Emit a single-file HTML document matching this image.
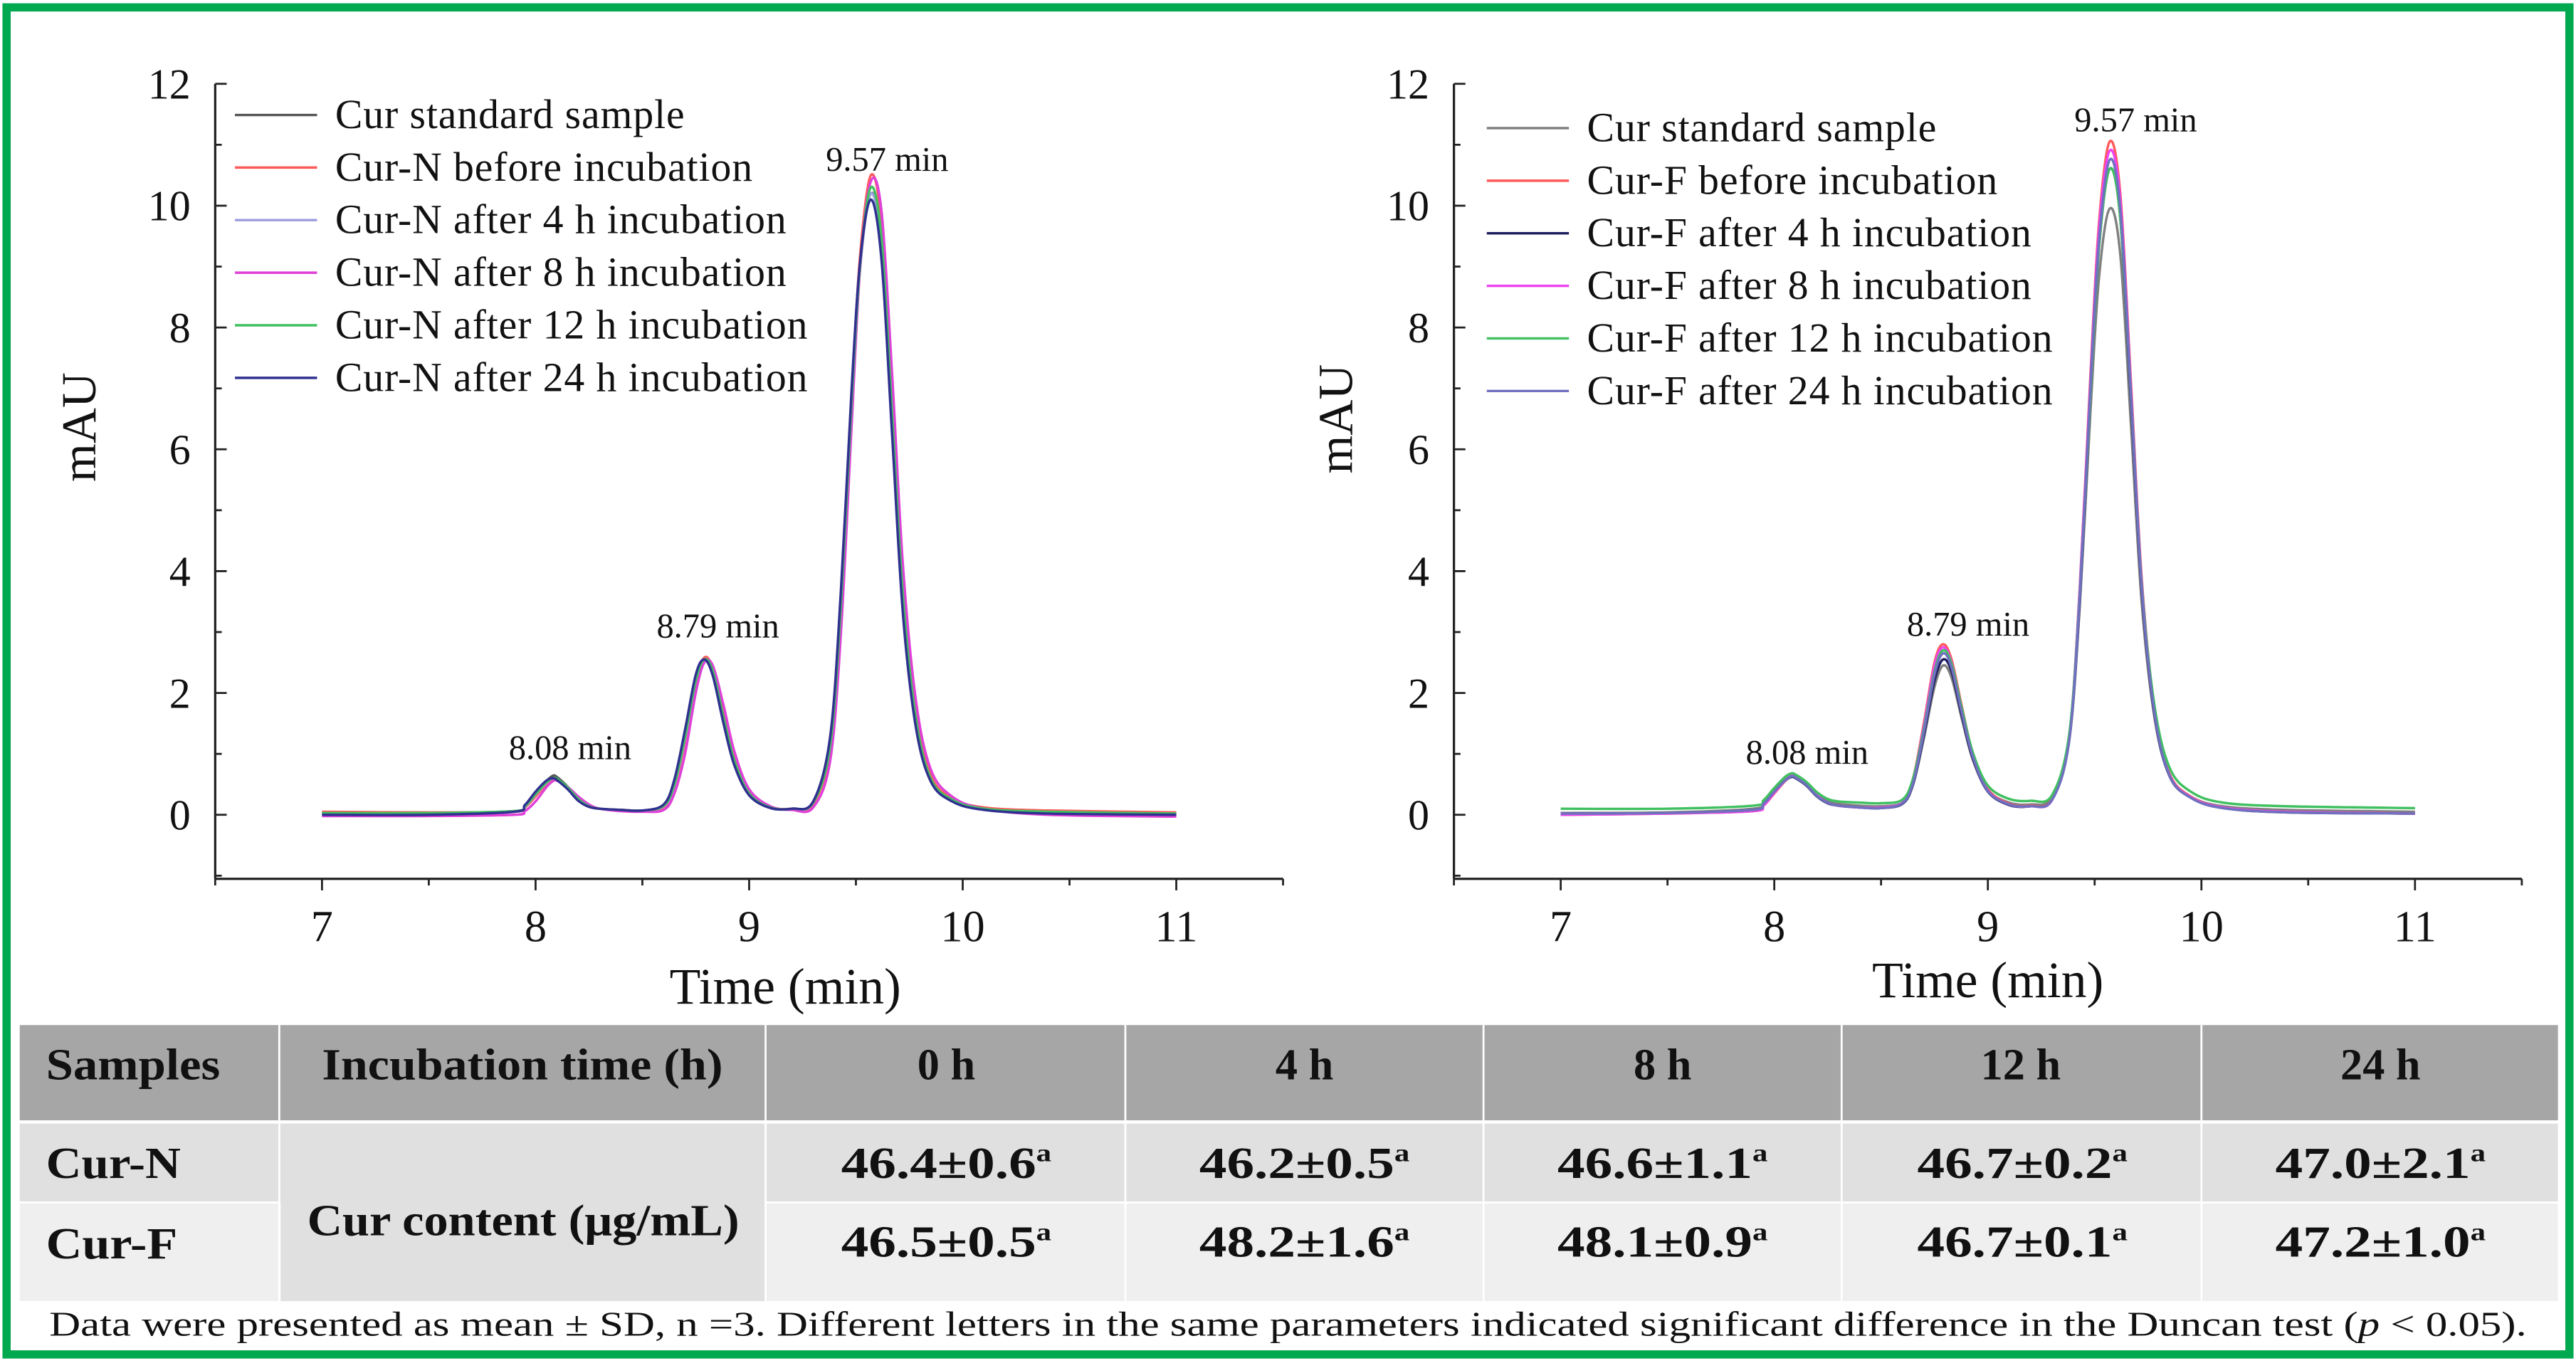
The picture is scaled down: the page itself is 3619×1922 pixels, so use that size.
<!DOCTYPE html>
<html><head><meta charset="utf-8"><style>
html,body{margin:0;padding:0;background:#fff;}
svg, svg text{font-family:"Liberation Serif","Times New Roman",serif;}
</style></head><body>
<svg id="fig" width="3619" height="1917" viewBox="0 0 1568 830.6" preserveAspectRatio="none" font-family="Liberation Serif, serif" xmlns="http://www.w3.org/2000/svg">
<rect x="0" y="0" width="1568" height="830.6" fill="#fff"/>
<rect x="4" y="4.5" width="1560" height="820" fill="none" stroke="#00a84f" stroke-width="5"/>
<g id="chartL"></g>
<g id="chartR"></g>
<g font-weight="bold" font-size="27">
<rect x="12" y="624" width="1545" height="58" fill="#a6a6a6"/>
<rect x="12" y="684" width="1545" height="48" fill="#e0e0e0"/>
<rect x="12" y="732" width="1545" height="60" fill="#efefef"/>
<rect x="171" y="684" width="295" height="108" fill="#e0e0e0"/>
<g stroke="#fff" stroke-width="1.2">
<line x1="170" y1="624" x2="170" y2="682"/><line x1="466" y1="624" x2="466" y2="682"/><line x1="685" y1="624" x2="685" y2="682"/><line x1="903" y1="624" x2="903" y2="682"/><line x1="1121" y1="624" x2="1121" y2="682"/><line x1="1340" y1="624" x2="1340" y2="682"/>
<line x1="170" y1="684" x2="170" y2="792"/><line x1="466" y1="684" x2="466" y2="792"/><line x1="685" y1="684" x2="685" y2="792"/><line x1="903" y1="684" x2="903" y2="792"/><line x1="1121" y1="684" x2="1121" y2="792"/><line x1="1340" y1="684" x2="1340" y2="792"/>
<line x1="12" y1="732" x2="170" y2="732"/><line x1="466" y1="732" x2="1557" y2="732"/>
</g>
<g fill="#111">
<text x="28" y="657" textLength="106" lengthAdjust="spacingAndGlyphs">Samples</text>
<text x="196" y="657" textLength="244" lengthAdjust="spacingAndGlyphs">Incubation time (h)</text>
<text x="576" y="657" text-anchor="middle">0 h</text>
<text x="794" y="657" text-anchor="middle">4 h</text>
<text x="1012" y="657" text-anchor="middle">8 h</text>
<text x="1230" y="657" text-anchor="middle">12 h</text>
<text x="1449" y="657" text-anchor="middle">24 h</text>
<text x="28" y="717" textLength="82" lengthAdjust="spacingAndGlyphs">Cur-N</text>
<text x="28" y="766" textLength="80" lengthAdjust="spacingAndGlyphs">Cur-F</text>
<text x="187" y="752" textLength="263" lengthAdjust="spacingAndGlyphs">Cur content (μg/mL)</text>
<text x="512" y="717" textLength="128" lengthAdjust="spacingAndGlyphs">46.4±0.6<tspan font-size="15" dy="-10">a</tspan></text>
<text x="730" y="717" textLength="128" lengthAdjust="spacingAndGlyphs">46.2±0.5<tspan font-size="15" dy="-10">a</tspan></text>
<text x="948" y="717" textLength="128" lengthAdjust="spacingAndGlyphs">46.6±1.1<tspan font-size="15" dy="-10">a</tspan></text>
<text x="1167" y="717" textLength="128" lengthAdjust="spacingAndGlyphs">46.7±0.2<tspan font-size="15" dy="-10">a</tspan></text>
<text x="1385" y="717" textLength="128" lengthAdjust="spacingAndGlyphs">47.0±2.1<tspan font-size="15" dy="-10">a</tspan></text>
<text x="512" y="765" textLength="128" lengthAdjust="spacingAndGlyphs">46.5±0.5<tspan font-size="15" dy="-10">a</tspan></text>
<text x="730" y="765" textLength="128" lengthAdjust="spacingAndGlyphs">48.2±1.6<tspan font-size="15" dy="-10">a</tspan></text>
<text x="948" y="765" textLength="128" lengthAdjust="spacingAndGlyphs">48.1±0.9<tspan font-size="15" dy="-10">a</tspan></text>
<text x="1167" y="765" textLength="128" lengthAdjust="spacingAndGlyphs">46.7±0.1<tspan font-size="15" dy="-10">a</tspan></text>
<text x="1385" y="765" textLength="128" lengthAdjust="spacingAndGlyphs">47.2±1.0<tspan font-size="15" dy="-10">a</tspan></text>
</g>
</g>
<text x="30" y="813" font-size="21" fill="#111" textLength="1508" lengthAdjust="spacingAndGlyphs">Data were presented as mean ± SD, n =3. Different letters in the same parameters indicated significant difference in the Duncan test (<tspan font-style="italic">p</tspan> &lt; 0.05).</text>
</svg>
<script>
const times=[7.0,7.5,7.9,7.95,8.0,8.05,8.08,8.1,8.15,8.2,8.25,8.3,8.4,8.5,8.6,8.65,8.7,8.75,8.79,8.83,8.88,8.93,9.0,9.1,9.2,9.3,9.38,9.43,9.48,9.52,9.57,9.62,9.67,9.72,9.78,9.85,9.95,10.1,10.4,11.0];
const yTicks=[0,2,4,6,8,10,12];
const xTicks=[7,8,9,10,11];
const namesN=["Cur standard sample","Cur-N before incubation","Cur-N after 4 h incubation","Cur-N after 8 h incubation","Cur-N after 12 h incubation","Cur-N after 24 h incubation"];
const namesF=["Cur standard sample","Cur-F before incubation","Cur-F after 4 h incubation","Cur-F after 8 h incubation","Cur-F after 12 h incubation","Cur-F after 24 h incubation"];
const colorsN=["#555555","#ff5a5a","#a0a0e0","#e040d8","#40c060","#303090"];
const colorsF=["#808080","#ff5a5a","#202060","#ee44ee","#40c060","#7070c0"];
const n0=[0.03,0.03,0.06,0.15,0.35,0.55,0.64,0.62,0.46,0.26,0.14,0.1,0.08,0.07,0.15,0.5,1.3,2.2,2.55,2.35,1.6,0.9,0.35,0.12,0.1,0.2,1.2,3.5,6.8,9.0,10.2,9.4,6.5,3.6,1.6,0.6,0.25,0.1,0.05,0.02];
const n1=[0.05,0.04,0.05,0.12,0.3,0.5,0.58,0.57,0.44,0.26,0.15,0.1,0.08,0.07,0.12,0.45,1.2,2.15,2.58,2.4,1.65,0.95,0.38,0.13,0.1,0.18,1.1,3.4,6.9,9.2,10.5,9.7,6.8,3.8,1.7,0.65,0.27,0.12,0.07,0.04];
const n2=[0.02,0.02,0.05,0.13,0.33,0.52,0.6,0.58,0.44,0.25,0.14,0.1,0.08,0.07,0.14,0.48,1.25,2.2,2.52,2.32,1.58,0.88,0.34,0.12,0.1,0.2,1.2,3.5,6.8,9.0,10.2,9.3,6.4,3.5,1.55,0.58,0.24,0.1,0.04,0.01];
const n3=[-0.02,-0.02,0.0,0.06,0.22,0.45,0.55,0.56,0.46,0.3,0.17,0.1,0.06,0.05,0.08,0.35,1.0,2.0,2.5,2.45,1.8,1.05,0.42,0.14,0.08,0.12,0.9,3.0,6.4,9.0,10.4,9.9,7.2,4.1,1.9,0.75,0.3,0.1,0.0,-0.03];
const n4=[0.03,0.03,0.06,0.14,0.34,0.53,0.6,0.59,0.45,0.26,0.14,0.1,0.08,0.07,0.15,0.5,1.28,2.2,2.55,2.36,1.6,0.9,0.35,0.12,0.1,0.2,1.15,3.45,6.8,9.05,10.3,9.45,6.55,3.6,1.6,0.6,0.25,0.1,0.05,0.02];
const n5=[0.0,0.0,0.05,0.16,0.38,0.56,0.6,0.57,0.42,0.23,0.13,0.1,0.08,0.07,0.17,0.58,1.4,2.3,2.55,2.28,1.5,0.82,0.32,0.11,0.1,0.22,1.3,3.7,7.0,9.1,10.1,9.1,6.2,3.3,1.45,0.55,0.22,0.08,0.02,0.0];
const f0=[0.03,0.04,0.1,0.2,0.4,0.58,0.64,0.62,0.5,0.33,0.22,0.18,0.15,0.14,0.2,0.5,1.25,2.1,2.45,2.25,1.55,0.9,0.4,0.2,0.17,0.28,1.2,3.4,6.6,8.8,9.95,9.2,6.4,3.5,1.6,0.65,0.3,0.14,0.08,0.05];
const f1=[0.0,0.02,0.06,0.15,0.35,0.55,0.63,0.62,0.5,0.32,0.2,0.15,0.12,0.12,0.2,0.6,1.5,2.5,2.8,2.55,1.75,1.0,0.42,0.18,0.15,0.25,1.25,3.7,7.2,9.7,11.05,10.2,7.1,3.9,1.75,0.68,0.3,0.12,0.05,0.02];
const f2=[0.02,0.03,0.08,0.18,0.38,0.56,0.62,0.6,0.48,0.3,0.19,0.15,0.12,0.11,0.18,0.5,1.3,2.2,2.55,2.35,1.6,0.92,0.38,0.16,0.14,0.24,1.2,3.5,6.9,9.3,10.6,9.8,6.8,3.7,1.65,0.64,0.28,0.11,0.04,0.02];
const f3=[0.0,0.02,0.06,0.15,0.36,0.56,0.64,0.63,0.5,0.32,0.2,0.15,0.12,0.12,0.2,0.58,1.45,2.45,2.75,2.5,1.7,0.98,0.4,0.17,0.14,0.24,1.25,3.7,7.1,9.6,10.9,10.1,7.0,3.85,1.72,0.66,0.29,0.12,0.05,0.02];
const f4=[0.1,0.1,0.15,0.24,0.44,0.62,0.68,0.66,0.54,0.37,0.26,0.22,0.2,0.19,0.25,0.6,1.4,2.35,2.7,2.48,1.72,1.02,0.48,0.26,0.23,0.32,1.3,3.6,6.9,9.3,10.6,9.8,6.9,3.8,1.8,0.78,0.38,0.2,0.14,0.11];
const f5=[0.02,0.03,0.08,0.18,0.38,0.56,0.63,0.61,0.49,0.31,0.2,0.15,0.12,0.11,0.19,0.52,1.35,2.3,2.65,2.42,1.65,0.95,0.39,0.17,0.14,0.24,1.2,3.55,7.0,9.4,10.75,9.95,6.9,3.75,1.68,0.65,0.28,0.11,0.04,0.02];
const seriesN=[n0,n1,n2,n3,n4,n5];
const seriesF=[f0,f1,f2,f3,f4,f5];
const NS="http://www.w3.org/2000/svg";
function mk(tag,attrs,parent){const e=document.createElementNS(NS,tag);for(const k in attrs)e.setAttribute(k,attrs[k]);parent.appendChild(e);return e;}
function smooth(pts){let d="M"+pts[0][0].toFixed(2)+","+pts[0][1].toFixed(2);for(let i=0;i<pts.length-1;i++){const p0=pts[Math.max(0,i-1)],p1=pts[i],p2=pts[i+1],p3=pts[Math.min(pts.length-1,i+2)];const c1x=p1[0]+(p2[0]-p0[0])/6,c1y=p1[1]+(p2[1]-p0[1])/6,c2x=p2[0]-(p3[0]-p1[0])/6,c2y=p2[1]-(p3[1]-p1[1])/6;d+=" C"+c1x.toFixed(2)+","+c1y.toFixed(2)+" "+c2x.toFixed(2)+","+c2y.toFixed(2)+" "+p2[0].toFixed(2)+","+p2[1].toFixed(2);}return d;}
function drawChart(g,cfg){
 const X=v=>cfg.x7+(v-7)*130, Y=v=>496-v*37.08;
 const ax0=X(6.5), ax1=X(11.5);
 const yAxis=mk('line',{x1:ax0,y1:Y(12),x2:ax0,y2:535,stroke:'#222','stroke-width':1.4},g);
 
 
 const xAxis=mk('line',{x1:ax0,y1:535,x2:ax1,y2:535,stroke:'#222','stroke-width':1.4},g);
 
 
 for(let v=-1;v<=12;v++){mk('line',{x1:ax0,y1:Y(v),x2:ax0+(v%2===0?7:4),y2:Y(v),stroke:'#222','stroke-width':1.2},g);}
 yTicks.forEach(v=>{const t=mk('text',{x:ax0-15,y:Y(v)+9,'font-size':26,'text-anchor':'end',fill:'#111'},g);t.textContent=v;
  
  });
 for(let v=6.5;v<=11.5;v+=0.5){mk('line',{x1:X(v),y1:535,x2:X(v),y2:535+(Math.abs(v-Math.round(v))<0.01?7:4),stroke:'#222','stroke-width':1.2},g);}
 xTicks.forEach(v=>{const t=mk('text',{x:X(v),y:573,'font-size':27,'text-anchor':'middle',fill:'#111'},g);t.textContent=v;
  
  });
 const xt=mk('text',{x:cfg.xTitleX,y:cfg.xTitleY,'font-size':31,'text-anchor':'middle',fill:'#111'},g);xt.textContent='Time (min)';
 
 
 const yt=mk('text',{x:0,y:0,'font-size':30,'text-anchor':'middle',fill:'#111',transform:'translate('+cfg.yTitleX+','+cfg.yTitleY+') rotate(-90)'},g);yt.textContent='mAU';
 
 
 cfg.series.forEach((arr,i)=>{const pts=times.map((t,j)=>[X(t),Y(arr[j])]);const p=mk('path',{d:smooth(pts),fill:'none',stroke:cfg.colors[i],'stroke-width':1.5},g);
  
  });
 cfg.ann.forEach(a=>{const t=mk('text',{x:a[1],y:a[2],'font-size':21,'text-anchor':'middle',fill:'#111'},g);t.textContent=a[0];
  
  });
 cfg.names.forEach((nm,i)=>{const y=cfg.legY+i*32;const l=mk('line',{x1:cfg.legX,y1:y,x2:cfg.legX+50,y2:y,stroke:cfg.colors[i],'stroke-width':1.5},g);
  
  
  const t=mk('text',{x:cfg.legX+61,y:y+8,'font-size':25,fill:'#111','letter-spacing':0.4},g);t.textContent=nm;
  
  });
}
drawChart(document.getElementById('chartL'),{x7:196,series:seriesN,colors:colorsN,names:namesN,legX:143,legY:70,xTitleX:478,xTitleY:611,yTitleX:58,yTitleY:260,ann:[["9.57 min",540,104],["8.79 min",437,388],["8.08 min",347,462]]});
drawChart(document.getElementById('chartR'),{x7:950,series:seriesF,colors:colorsF,names:namesF,legX:905,legY:78,xTitleX:1210,xTitleY:607,yTitleX:823,yTitleY:255,ann:[["9.57 min",1300,80],["8.79 min",1198,387],["8.08 min",1100,465]]});
</script>
</body></html>
